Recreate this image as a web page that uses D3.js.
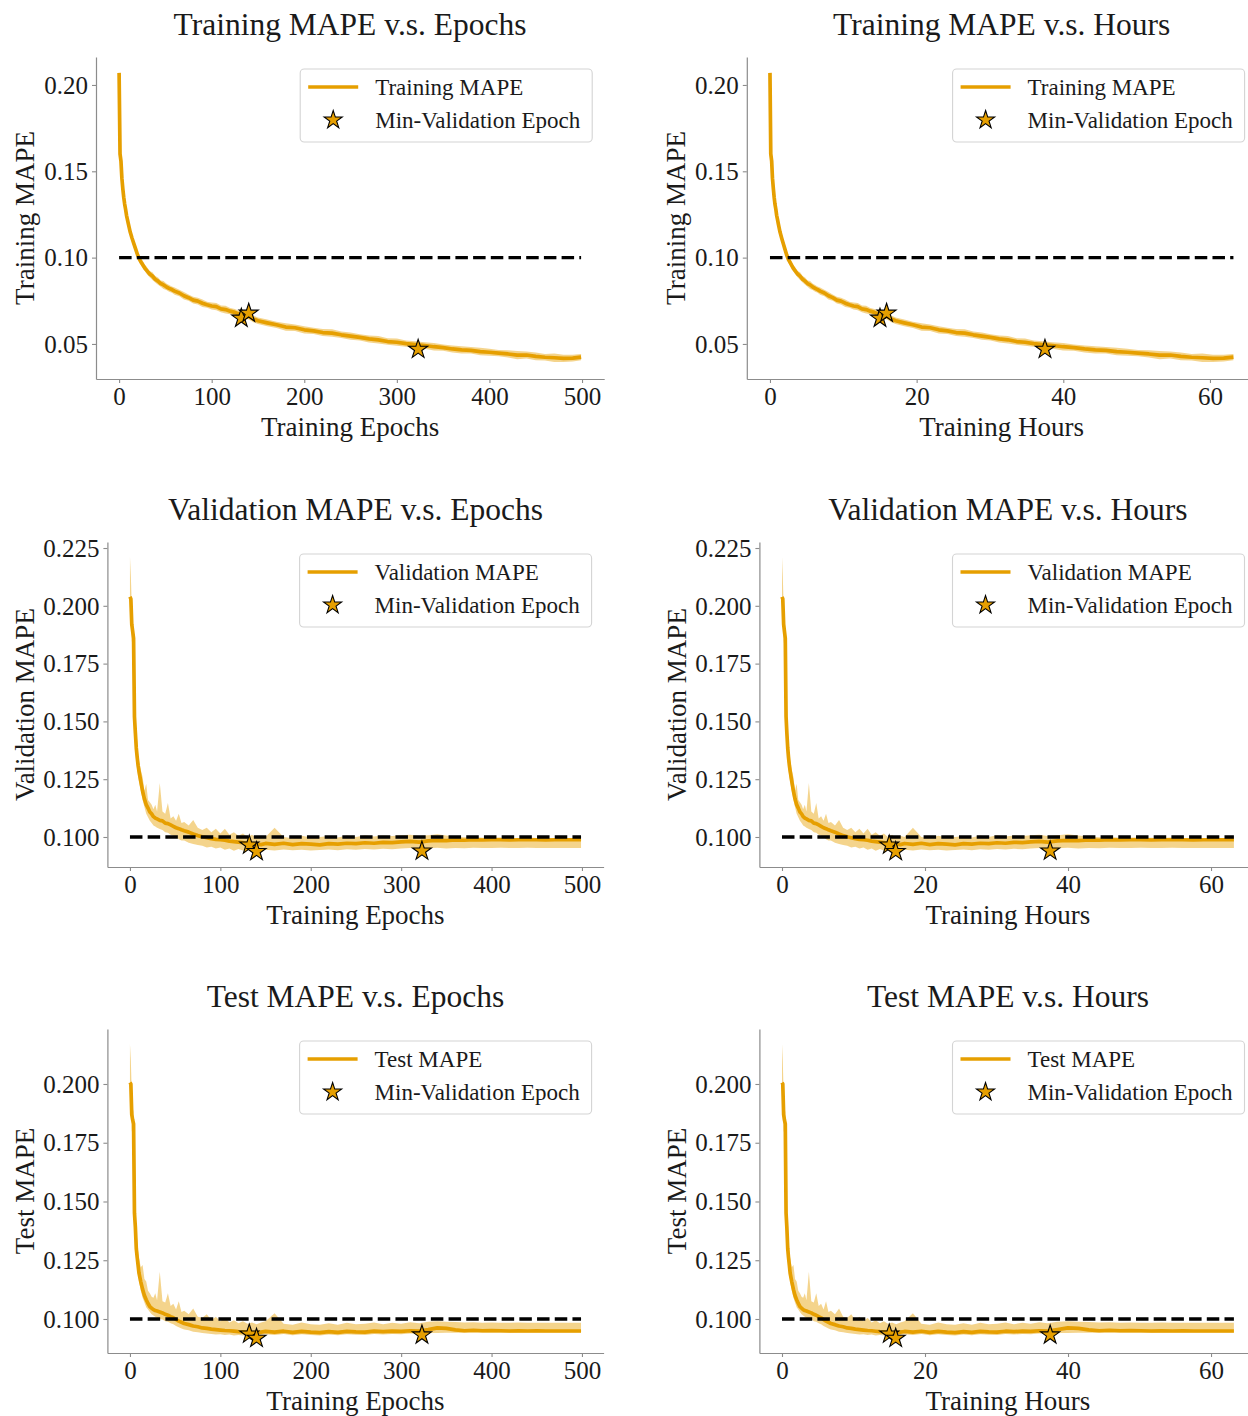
<!DOCTYPE html>
<html><head><meta charset="utf-8">
<script src="https://cdn.jsdelivr.net/npm/d3@7"></script>
<style>
body{margin:0;background:#fff}
svg{display:block}
text{font-family:"Liberation Serif","Times New Roman",serif;fill:#1a1a1a}
</style>
</head><body>
<svg id="c" width="1248" height="1416"></svg>
<script>
// ---------------- data ----------------
const epochs = [
 0,1,2,3,4,5,6,7,8,9,10,
 12,14,16,18,20,22,24,26,28,30,
 33,36,39,42,45,48,51,54,57,60,
 65,70,75,80,85,90,95,100,105,
 110,115,120,125,130,135,140,145,150,
 160,170,180,190,200,210,220,230,240,250,
 260,270,280,290,300,310,320,330,340,350,
 360,370,380,390,400,410,420,430,440,450,
 460,470,480,490,
 499];
const hours = [
 0,0.11,0.23,0.34,0.46,0.57,0.68,0.80,0.91,1.03,1.14,
 1.37,1.60,1.82,2.05,2.28,2.51,2.74,2.96,3.19,3.42,
 3.76,4.10,4.45,4.79,5.13,5.47,5.81,6.16,6.50,6.84,
 7.41,7.98,8.55,9.12,9.69,10.26,10.83,11.40,11.97,
 12.54,13.11,13.68,14.25,14.82,15.39,15.96,16.55,17.14,
 18.31,19.49,20.67,21.84,23.02,24.20,25.38,26.55,27.73,28.91,
 30.08,31.26,32.44,33.62,34.79,35.97,37.15,38.52,39.98,41.44,
 42.90,44.36,45.82,47.28,48.74,50.20,51.66,53.12,54.58,56.04,
 57.50,58.96,60.42,61.88,
 63.2];
const trainMAPE = [
 0.2070,0.1600,0.1560,0.1460,0.1400,0.1350,0.1310,0.1280,0.1245,0.1220,0.1195,
 0.1148,0.1112,0.1080,0.1048,0.1015,0.0990,0.0972,0.0955,0.0938,0.0925,
 0.0905,0.0893,0.0875,0.0864,0.0850,0.0842,0.0831,0.0822,0.0815,0.0806,
 0.0795,0.0779,0.0768,0.0754,0.0748,0.0736,0.0727,0.0720,0.0716,
 0.0703,0.0699,0.0690,0.0683,0.0672,0.0669,0.0660,0.0645,0.0634,
 0.0622,0.0611,0.0598,0.0594,0.0582,0.0576,0.0566,0.0563,0.0553,0.0545,
 0.0538,0.0529,0.0524,0.0514,0.0510,0.0502,0.0496,0.0491,0.0484,0.0479,
 0.0471,0.0466,0.0463,0.0456,0.0452,0.0447,0.0442,0.0435,0.0436,0.0428,
 0.0423,0.0420,0.0416,0.0418,
 0.0424];
const trainSpread = [
 0.0010,0.0025,0.0022,0.0020,0.0020,0.0018,0.0018,0.0021,0.0018,0.0019,0.0018,
 0.0019,0.0022,0.0018,0.0024,0.0019,0.0021,0.0018,0.0022,0.0019,0.0020,
 0.0018,0.0022,0.0019,0.0021,0.0018,0.0023,0.0019,0.0020,0.0018,0.0021,
 0.0019,0.0022,0.0018,0.0020,0.0019,0.0022,0.0018,0.0020,0.0021,
 0.0019,0.0022,0.0018,0.0020,0.0019,0.0022,0.0018,0.0020,0.0019,
 0.0020,0.0018,0.0022,0.0019,0.0021,0.0018,0.0020,0.0022,0.0019,0.0021,
 0.0018,0.0020,0.0022,0.0019,0.0021,0.0018,0.0020,0.0019,0.0022,0.0018,
 0.0020,0.0021,0.0019,0.0022,0.0020,0.0018,0.0021,0.0024,0.0020,0.0022,
 0.0019,0.0025,0.0021,0.0020,
 0.0018];
const valMAPE = [
 0.2039,0.2030,0.1920,0.1890,0.1860,0.1520,0.1450,0.1385,0.1345,0.1310,0.1285,
 0.1240,0.1198,0.1165,0.1140,0.1125,0.1108,0.1100,0.1088,0.1082,0.1078,
 0.1072,0.1070,0.1060,0.1058,0.1052,0.1046,0.1040,0.1036,0.1031,0.1027,
 0.1021,0.1013,0.1006,0.1001,0.0997,0.0993,0.0990,0.0988,0.0986,
 0.0982,0.0980,0.0978,0.0976,0.0973,0.0971,0.0969,0.0967,0.0972,
 0.0968,0.0973,0.0967,0.0971,0.0969,0.0966,0.0971,0.0969,0.0973,0.0971,
 0.0975,0.0973,0.0977,0.0976,0.0979,0.0981,0.0978,0.0983,0.0985,0.0984,
 0.0987,0.0986,0.0988,0.0987,0.0988,0.0989,0.0987,0.0988,0.0989,0.0988,
 0.0987,0.0988,0.0988,0.0988,
 0.0988];
const valHigh = [
 0.2212,0.2130,0.2000,0.1930,0.1900,0.1600,0.1560,0.1450,0.1420,0.1360,0.1330,
 0.1290,0.1260,0.1200,0.1230,0.1160,0.1150,0.1140,0.1120,0.1140,0.1110,
 0.1234,0.1110,0.1100,0.1147,0.1080,0.1090,0.1070,0.1100,0.1060,0.1065,
 0.1050,0.1074,0.1040,0.1030,0.1040,0.1020,0.1036,0.1015,0.1036,
 0.1010,0.1020,0.1005,0.1015,0.1000,0.1010,0.0995,0.1005,0.1000,
 0.1040,0.1000,0.0995,0.1005,0.0998,0.1000,0.1004,0.0998,0.1006,0.1000,
 0.1008,0.1002,0.1006,0.1004,0.1008,0.1010,0.1004,0.1008,0.1012,0.1006,
 0.1002,0.0999,0.1000,0.0997,0.0998,0.0996,0.0997,0.0995,0.0996,0.0995,
 0.0995,0.0994,0.0995,0.0994,
 0.0994];
const valLow = [
 0.2000,0.1990,0.1850,0.1820,0.1800,0.1440,0.1380,0.1330,0.1290,0.1260,0.1240,
 0.1200,0.1160,0.1130,0.1100,0.1085,0.1070,0.1060,0.1050,0.1045,0.1040,
 0.1035,0.1030,0.1020,0.1018,0.1010,0.1005,0.1000,0.0990,0.0985,0.0985,
 0.0975,0.0970,0.0965,0.0962,0.0955,0.0958,0.0950,0.0955,0.0945,
 0.0950,0.0940,0.0948,0.0942,0.0945,0.0940,0.0944,0.0940,0.0945,
 0.0942,0.0946,0.0943,0.0945,0.0942,0.0944,0.0946,0.0943,0.0947,0.0945,
 0.0948,0.0946,0.0949,0.0947,0.0950,0.0952,0.0948,0.0951,0.0953,0.0950,
 0.0952,0.0951,0.0953,0.0952,0.0952,0.0953,0.0952,0.0952,0.0953,0.0952,
 0.0952,0.0952,0.0952,0.0952,
 0.0952];
const testMAPE = [
 0.2006,0.2000,0.1870,0.1847,0.1830,0.1450,0.1390,0.1300,0.1262,0.1228,0.1195,
 0.1158,0.1126,0.1100,0.1082,0.1066,0.1053,0.1046,0.1040,0.1036,0.1034,
 0.1030,0.1026,0.1020,0.1016,0.1010,0.1005,0.0998,0.0991,0.0986,0.0981,
 0.0976,0.0970,0.0967,0.0962,0.0960,0.0957,0.0955,0.0953,0.0951,
 0.0950,0.0948,0.0946,0.0945,0.0944,0.0942,0.0942,0.0944,0.0947,
 0.0944,0.0948,0.0943,0.0947,0.0944,0.0942,0.0946,0.0943,0.0947,0.0945,
 0.0944,0.0948,0.0946,0.0948,0.0947,0.0950,0.0949,0.0955,0.0962,0.0960,
 0.0954,0.0950,0.0952,0.0950,0.0951,0.0950,0.0949,0.0950,0.0949,0.0950,
 0.0949,0.0949,0.0949,0.0949,
 0.0949];
const testHigh = [
 0.2170,0.2100,0.1960,0.1900,0.1880,0.1560,0.1500,0.1380,0.1340,0.1290,0.1260,
 0.1220,0.1230,0.1170,0.1160,0.1120,0.1110,0.1095,0.1090,0.1110,0.1080,
 0.1201,0.1075,0.1070,0.1110,0.1055,0.1065,0.1040,0.1075,0.1030,0.1035,
 0.1020,0.1045,0.1010,0.1005,0.1020,0.0995,0.1010,0.0990,0.1005,
 0.0985,0.0995,0.0982,0.0990,0.0980,0.0985,0.0978,0.0985,0.0990,
 0.1024,0.0980,0.0976,0.0985,0.0978,0.0975,0.0982,0.0976,0.0984,0.0978,
 0.0980,0.0985,0.0978,0.0984,0.0980,0.0986,0.0982,0.0988,0.0990,0.0988,
 0.0987,0.0985,0.0986,0.0984,0.0985,0.0984,0.0984,0.0985,0.0984,0.0984,
 0.0984,0.0984,0.0984,0.0984,
 0.0984];
const testLow = [
 0.1980,0.1970,0.1800,0.1790,0.1780,0.1380,0.1320,0.1250,0.1220,0.1190,0.1160,
 0.1120,0.1090,0.1070,0.1050,0.1040,0.1030,0.1020,0.1015,0.1010,0.1005,
 0.1000,0.0998,0.0990,0.0988,0.0982,0.0978,0.0970,0.0965,0.0960,0.0955,
 0.0952,0.0946,0.0944,0.0940,0.0938,0.0936,0.0934,0.0935,0.0932,
 0.0934,0.0930,0.0932,0.0930,0.0931,0.0929,0.0930,0.0932,0.0935,
 0.0932,0.0936,0.0931,0.0935,0.0932,0.0930,0.0934,0.0931,0.0935,0.0933,
 0.0932,0.0936,0.0934,0.0936,0.0935,0.0938,0.0937,0.0940,0.0940,0.0942,
 0.0941,0.0941,0.0942,0.0941,0.0942,0.0942,0.0942,0.0943,0.0943,0.0943,
 0.0943,0.0943,0.0943,0.0943,
 0.0943];

const starEpochs = [132, 140, 323];
const starHours = [15.0, 15.9, 37.5];
const trainStars = [0.0649, 0.0678, 0.0469];
const valStars = [0.0965, 0.0937, 0.0939];
const testStars = [0.0936, 0.0918, 0.0932];

const threshold = 0.1;
const epochTicks = [0, 100, 200, 300, 400, 500];
const hourTicks = [0, 20, 40, 60];
const trainTicks = [0.05, 0.10, 0.15, 0.20];
const valTicks = [0.100, 0.125, 0.150, 0.175, 0.200, 0.225];
const testTicks = [0.100, 0.125, 0.150, 0.175, 0.200];

// ---------------- layout ----------------
const ORANGE = "#E69F00";
const SPINE = "#8c8c8c";
const svg = d3.select("#c");
const defs = svg.append("defs");

const rows = [
  {name:"Training", vals:trainMAPE,
   lo:trainMAPE.map((v,i)=>v-trainSpread[i]), hi:trainMAPE.map((v,i)=>v+trainSpread[i]),
   stars:trainStars, yTicks:trainTicks, yFmt:d3.format(".2f"),
   top:57, bottom:379, yDomain:[0.0297,0.2162], leftE:96, rightE:604.2, leftH:746.8, rightH:1256.6, ylabOff:71},
  {name:"Validation", vals:valMAPE, lo:valLow, hi:valHigh,
   stars:valStars, yTicks:valTicks, yFmt:d3.format(".3f"),
   top:542, bottom:867, yDomain:[0.08702,0.2276], leftE:107.4, rightE:603.6, leftH:759.4, rightH:1256.5, ylabOff:82},
  {name:"Test", vals:testMAPE, lo:testLow, hi:testHigh,
   stars:testStars, yTicks:testTicks, yFmt:d3.format(".3f"),
   top:1029, bottom:1353, yDomain:[0.08553,0.2234], leftE:107.4, rightE:603.6, leftH:759.4, rightH:1256.5, ylabOff:82}
];

function starPath(R){
  const r = R*0.381966, pts=[];
  for(let k=0;k<10;k++){
    const a = -Math.PI/2 + k*Math.PI/5, rr = k%2===0?R:r;
    pts.push([rr*Math.cos(a), rr*Math.sin(a)]);
  }
  return "M"+pts.map(p=>p[0].toFixed(2)+","+p[1].toFixed(2)).join("L")+"Z";
}

let pid = 0;
function drawPanel(row, useHours){
  pid++;
  const xs = useHours ? hours : epochs;
  const left = useHours ? row.leftH : row.leftE;
  const right = useHours ? row.rightH : row.rightE;
  const xDomain = useHours ? [-3.16, 66.36] : [-24.95, 523.95];
  const x = d3.scaleLinear().domain(xDomain).range([left, right]);
  const y = d3.scaleLinear().domain(row.yDomain).range([row.bottom, row.top]);
  const g = svg.append("g");
  const cid = "clip"+pid;
  defs.append("clipPath").attr("id",cid).append("rect")
    .attr("x",left).attr("y",row.top).attr("width",right-left).attr("height",row.bottom-row.top);
  const plot = g.append("g").attr("clip-path","url(#"+cid+")");
  const pts = xs.map((xv,i)=>({x:xv, v:row.vals[i], lo:row.lo[i], hi:row.hi[i]}));

  plot.append("path").datum(pts)
    .attr("d", d3.area().x(d=>x(d.x)).y0(d=>y(d.lo)).y1(d=>y(d.hi)))
    .attr("fill", ORANGE).attr("fill-opacity", 0.45).attr("stroke","none");
  plot.append("path").datum(pts)
    .attr("d", d3.line().x(d=>x(d.x)).y(d=>y(d.v)))
    .attr("fill","none").attr("stroke",ORANGE).attr("stroke-width",3.7)
    .attr("stroke-linejoin","round").attr("stroke-linecap","butt");
  plot.append("line")
    .attr("x1",x(xs[0])).attr("x2",x(xs[xs.length-1]))
    .attr("y1",y(threshold)).attr("y2",y(threshold))
    .attr("stroke","#000").attr("stroke-width",3.3).attr("stroke-dasharray","12.5,5.2");
  const sx = useHours ? starHours : starEpochs;
  plot.selectAll("path.star").data(sx.map((s,i)=>({x:s, v:row.stars[i]}))).join("path")
    .attr("class","star")
    .attr("d", starPath(10))
    .attr("transform", d=>`translate(${x(d.x)},${y(d.v)})`)
    .attr("fill", ORANGE).attr("stroke","#000").attr("stroke-width",1.1).attr("stroke-linejoin","miter");

  // axes
  const xAxis = d3.axisBottom(x).tickValues(useHours?hourTicks:epochTicks)
    .tickFormat(d3.format("d")).tickSize(4).tickSizeOuter(0).tickPadding(4);
  const xa = g.append("g").attr("transform",`translate(0,${row.bottom})`).call(xAxis);
  const yAxis = d3.axisLeft(y).tickValues(row.yTicks).tickFormat(row.yFmt)
    .tickSize(4).tickSizeOuter(0).tickPadding(4);
  const ya = g.append("g").attr("transform",`translate(${left},0)`).call(yAxis);
  [xa,ya].forEach(a=>{
    a.select(".domain").attr("stroke",SPINE).attr("stroke-width",1.2);
    a.selectAll(".tick line").attr("stroke",SPINE).attr("stroke-width",1.1);
    a.selectAll(".tick text").attr("font-family",'"Liberation Serif","Times New Roman",serif')
      .attr("font-size",25).attr("fill","#1a1a1a");
  });
  ya.selectAll(".tick text").attr("dy","0.33em");

  const cx = (left+right)/2;
  g.append("text").attr("x",cx).attr("y",row.top-22).attr("text-anchor","middle")
    .attr("font-size",31.5).text(`${row.name} MAPE v.s. ${useHours?"Hours":"Epochs"}`);
  g.append("text").attr("x",cx).attr("y",row.bottom+57).attr("text-anchor","middle")
    .attr("font-size",27).text(useHours?"Training Hours":"Training Epochs");
  const ylx = left-row.ylabOff+9, yly=(row.top+row.bottom)/2;
  g.append("text").attr("transform",`translate(${ylx},${yly}) rotate(-90)`)
    .attr("text-anchor","middle").attr("font-size",27).text(`${row.name} MAPE`);

  // legend
  const bw=292, bh=73, bx = right-12-bw, by = row.top+12;
  const lg = g.append("g");
  lg.append("rect").attr("x",bx).attr("y",by).attr("width",bw).attr("height",bh)
    .attr("rx",4).attr("fill","#fff").attr("fill-opacity",0.8)
    .attr("stroke","#d4d4d4").attr("stroke-width",1.1);
  lg.append("line").attr("x1",bx+8).attr("x2",bx+58).attr("y1",by+18).attr("y2",by+18)
    .attr("stroke",ORANGE).attr("stroke-width",3.4);
  lg.append("path").attr("d",starPath(9.5)).attr("transform",`translate(${bx+33},${by+51})`)
    .attr("fill",ORANGE).attr("stroke","#000").attr("stroke-width",1.1);
  lg.append("text").attr("x",bx+75).attr("y",by+26).attr("font-size",23).text(`${row.name} MAPE`);
  lg.append("text").attr("x",bx+75).attr("y",by+59).attr("font-size",23).text("Min-Validation Epoch");
}

rows.forEach(r=>{ drawPanel(r,false); drawPanel(r,true); });
</script>
</body></html>
